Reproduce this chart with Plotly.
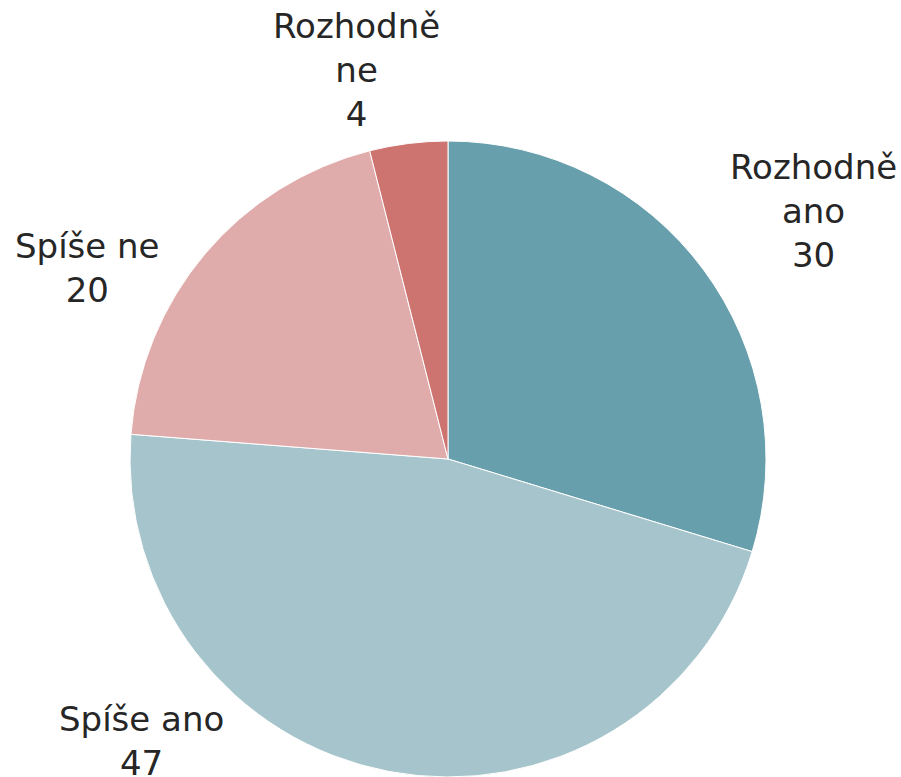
import plotly.graph_objects as go

# Data
categories = ["Rozhodně ano", "Spíše ano", "Spíše ne", "Rozhodně ne"]
display_labels = ["Rozhodně<br>ano", "Spíše ano", "Spíše ne", "Rozhodně<br>ne"]
values = [30, 47, 20, 4]
colors = ["#689fac", "#a6c4cb", "#e0acab", "#cd7470"]

# Label placement (layout, paper coordinates)
label_x = [813 / 901, 141 / 901, 87 / 901, 356 / 901]
label_y = [1 - 211 / 777, 1 - 741 / 777, 1 - 268 / 777, 1 - 70 / 777]

W, H = 901, 777
cx, cy, r = 448, 459, 321

fig = go.Figure(
    go.Pie(
        labels=categories,
        values=values,
        sort=False,
        direction="clockwise",
        rotation=0,
        marker=dict(colors=colors, line=dict(color="white", width=1)),
        textinfo="none",
        hoverinfo="label+value",
        showlegend=False,
        domain=dict(x=[(cx - r) / W, (cx + r) / W], y=[0, 2 * (H - cy) / H]),
    )
)

for lab, v, x, y in zip(display_labels, values, label_x, label_y):
    fig.add_annotation(
        x=x, y=y, xref="paper", yref="paper",
        text=f"{lab}<br>{v}",
        showarrow=False,
        xanchor="center", yanchor="middle", align="center",
        font=dict(family="DejaVu Sans", size=34, color="#262626"),
    )

fig.update_layout(
    width=W, height=H,
    margin=dict(l=0, r=0, t=0, b=0),
    paper_bgcolor="white",
    plot_bgcolor="white",
)

fig.write_html(
    "out.html",
    config={"displayModeBar": False},
    post_script="document.body.style.margin='0';document.body.style.overflow='hidden';",
)
